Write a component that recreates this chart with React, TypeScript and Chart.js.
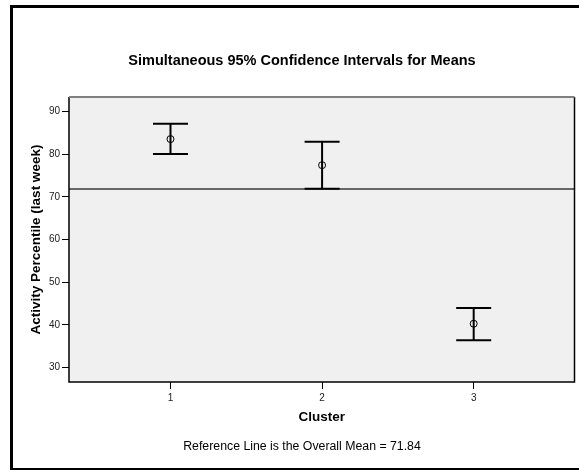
import React, { useEffect, useRef } from 'react';
import { Chart, registerables } from 'chart.js';

Chart.register(...registerables);

// ---- data ----
const clusters = [1, 2, 3];
const means = [83.5, 77.4, 40.3];
const lowerBounds = [80.0, 71.9, 36.45];
const upperBounds = [87.1, 82.9, 44.0];
const overallMean = 71.84;
const yTicks = [30, 40, 50, 60, 70, 80, 90];
const xTicks = [1, 2, 3];
const titleText = 'Simultaneous 95% Confidence Intervals for Means';
const yTitle = 'Activity Percentile (last week)';
const xTitle = 'Cluster';
const footerText = 'Reference Line is the Overall Mean = ' + overallMean.toFixed(2);

const FONT = 'Arial, "Liberation Sans", Helvetica, sans-serif';
const CAP_HALF = 17.5;

const framePlugin = {
  id: 'framePlugin',
  beforeDraw(chart: any) {
    const { ctx, chartArea: a } = chart;
    ctx.save();
    ctx.fillStyle = '#ffffff';
    ctx.fillRect(0, 0, chart.width, chart.height);
    ctx.strokeStyle = '#000';
    ctx.lineWidth = 3;
    ctx.strokeRect(11.5, 6.5, 640, 463);
    ctx.fillStyle = '#f0f0f0';
    ctx.fillRect(a.left, a.top, a.right - a.left, a.bottom - a.top);
    ctx.restore();
  },
  beforeDatasetsDraw(chart: any) {
    const { ctx, chartArea: a } = chart;
    const x = chart.scales.x;
    const y = chart.scales.y;
    ctx.save();
    const yr = y.getPixelForValue(overallMean);
    ctx.strokeStyle = '#3a3a3a';
    ctx.lineWidth = 1.5;
    ctx.beginPath();
    ctx.moveTo(a.left, yr);
    ctx.lineTo(a.right, yr);
    ctx.stroke();
    ctx.strokeStyle = '#000';
    ctx.lineWidth = 2;
    clusters.forEach((c, i) => {
      const px = x.getPixelForValue(c);
      const lo = y.getPixelForValue(lowerBounds[i]);
      const hi = y.getPixelForValue(upperBounds[i]);
      ctx.beginPath();
      ctx.moveTo(px, lo);
      ctx.lineTo(px, hi);
      ctx.moveTo(px - CAP_HALF, hi);
      ctx.lineTo(px + CAP_HALF, hi);
      ctx.moveTo(px - CAP_HALF, lo);
      ctx.lineTo(px + CAP_HALF, lo);
      ctx.stroke();
    });
    ctx.restore();
  },
  afterDraw(chart: any) {
    const { ctx, chartArea: a } = chart;
    ctx.save();
    ctx.strokeStyle = '#000';
    ctx.lineWidth = 1.5;
    ctx.beginPath();
    ctx.moveTo(a.left, a.top);
    ctx.lineTo(a.left, a.bottom);
    ctx.lineTo(a.right, a.bottom);
    ctx.lineTo(a.right, a.top);
    ctx.stroke();
    ctx.strokeStyle = '#808080';
    ctx.lineWidth = 2;
    ctx.beginPath();
    ctx.moveTo(a.left, a.top);
    ctx.lineTo(a.right, a.top);
    ctx.stroke();
    ctx.restore();
  },
};

export default function App() {
  const canvasRef = useRef<HTMLCanvasElement | null>(null);

  useEffect(() => {
    if (!canvasRef.current) return;
    Chart.defaults.font.family = FONT;
    const chart = new Chart(canvasRef.current, {
      type: 'scatter',
      data: {
        datasets: [
          {
            data: clusters.map((c, i) => ({ x: c, y: means[i] })),
            pointStyle: 'circle',
            pointRadius: 3.5,
            pointHoverRadius: 3.5,
            borderColor: '#000',
            borderWidth: 1,
            backgroundColor: 'rgba(0,0,0,0)',
            showLine: false,
          },
        ],
      },
      options: {
        responsive: false,
        animation: false,
        devicePixelRatio: 1,
        layout: { padding: { left: 27, right: 2, top: 0, bottom: 0 } },
        plugins: {
          legend: { display: false },
          tooltip: { enabled: false },
          title: {
            display: true,
            text: titleText,
            color: '#000',
            font: { size: 14.5, weight: 'bold', family: FONT },
            padding: { top: 51.8, bottom: 27.8 },
          },
          subtitle: {
            display: true,
            position: 'bottom',
            text: footerText,
            color: '#000',
            font: { size: 12.3, weight: 'normal', family: FONT },
            padding: { top: 0, bottom: 15.6 },
          },
        },
        scales: {
          x: {
            type: 'linear',
            min: 0.3305,
            max: 3.665,
            afterBuildTicks: (s: any) => {
              s.ticks = xTicks.map((v) => ({ value: v }));
            },
            afterFit: (s: any) => {
              s.height = 57.6;
            },
            grid: { drawOnChartArea: false, drawTicks: true, tickLength: 7, color: '#000', lineWidth: 1 },
            border: { display: false },
            ticks: { color: '#222', padding: 3, font: { size: 10, family: FONT }, maxRotation: 0 },
            title: {
              display: true,
              text: xTitle,
              color: '#000',
              font: { size: 13.5, weight: 'bold', family: FONT },
              padding: { top: 0, bottom: 14.5 },
            },
          },
          y: {
            type: 'linear',
            min: 26.65,
            max: 93.35,
            afterBuildTicks: (s: any) => {
              s.ticks = yTicks.map((v) => ({ value: v }));
            },
            afterFit: (s: any) => {
              s.width = 42;
            },
            grid: { drawOnChartArea: false, drawTicks: true, tickLength: 7, color: '#000', lineWidth: 1 },
            border: { display: false },
            ticks: { color: '#222', padding: 2, font: { size: 10, family: FONT } },
            title: {
              display: true,
              text: yTitle,
              color: '#000',
              font: { size: 13.5, weight: 'bold', family: FONT },
              padding: { top: 0.9, bottom: 0 },
            },
          },
        },
      },
      plugins: [framePlugin],
    } as any);
    return () => chart.destroy();
  }, []);

  return (
    <div style={{ position: 'absolute', left: 0, top: 0, width: 579, height: 470 }}>
      <canvas ref={canvasRef} width={579} height={470} />
    </div>
  );
}
